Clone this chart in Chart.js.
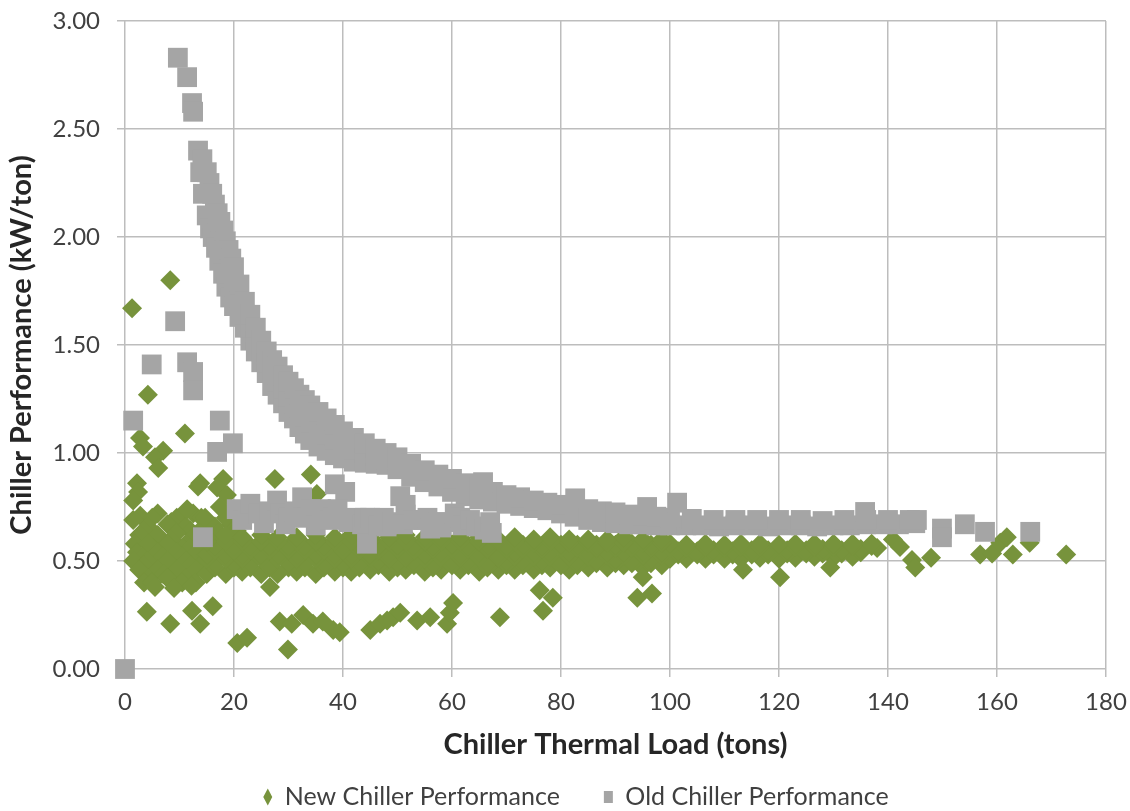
<!DOCTYPE html>
<html>
<head>
<meta charset="utf-8">
<title>Chiller Performance</title>
<script src="https://cdn.jsdelivr.net/npm/chart.js@4.4.1/dist/chart.umd.min.js"></script>
<style>
    html, body { margin: 0; padding: 0; background: #ffffff; }
</style>
</head>
<body>
<canvas id="myScatterChart" width="1130" height="811"></canvas>
<script>
// ---- data: [load (tons), kW/ton] ----

// new chiller, dense cloud at low load
const newLowLoad = [
    [2.8, 0.71], [6.0, 0.72], [9.5, 0.70], [12.5, 0.72], [5.0, 0.70], [8.5, 0.68], [14.0, 0.70],
    [4.2, 0.66], [7.8, 0.67], [11.2, 0.66], [14.5, 0.66], [3.5, 0.64], [12.0, 0.64],
    [2.6, 0.62], [6.0, 0.62], [9.5, 0.63], [13.0, 0.62], [8.5, 0.60], [5.0, 0.56],
    [1.8, 0.58], [4.2, 0.58], [7.8, 0.58], [11.2, 0.58], [14.5, 0.58], [10.5, 0.56], [12.0, 0.56],
    [2.2, 0.54], [6.0, 0.54], [9.5, 0.54], [13.0, 0.54], [3.2, 0.52], [7.0, 0.52], [10.5, 0.52],
    [1.5, 0.50], [4.2, 0.50], [7.8, 0.50], [11.2, 0.50], [14.5, 0.50], [3.5, 0.48], [12.0, 0.48],
    [2.6, 0.46], [6.0, 0.46], [9.5, 0.46], [13.0, 0.46], [7.0, 0.44],
    [4.2, 0.42], [7.8, 0.42], [11.2, 0.42], [3.5, 0.40], [5.0, 0.40], [10.5, 0.40], [13.0, 0.40],
    [5.5, 0.38], [9.0, 0.375], [12.2, 0.385],
    [16.5, 0.66], [19.5, 0.67], [18.5, 0.70], [17.0, 0.63], [20.5, 0.64]
]

// new chiller, main band (rows from bottom to top)
const newBand = [
    [15, 0.44], [18.5, 0.44], [21.5, 0.45], [25, 0.44], [28, 0.44], [31.5, 0.45], [35, 0.44], [38.5, 0.45],
    [41.5, 0.45], [45, 0.46], [48.5, 0.45], [51.5, 0.46], [55, 0.45], [58, 0.46], [61.5, 0.46], [65, 0.45],
    [68.5, 0.46], [71.5, 0.46], [75, 0.46], [78, 0.47], [81.5, 0.46], [85, 0.47], [88.5, 0.47], [91.5, 0.48],
    [95, 0.47], [98.5, 0.48],
    [16.5, 0.47], [20, 0.47], [23, 0.47], [26.5, 0.47], [30, 0.47], [33, 0.47], [36.5, 0.47], [40, 0.47],
    [43, 0.47], [46.5, 0.48], [50, 0.47], [53, 0.48], [56.5, 0.47], [60, 0.48], [63, 0.48], [66.5, 0.47],
    [70, 0.48], [73, 0.48], [76.5, 0.48], [80, 0.48], [83, 0.48], [86.5, 0.49], [90, 0.49], [93, 0.49],
    [96.5, 0.49],
    [16.5, 0.49], [20, 0.49], [23, 0.49], [26.5, 0.48], [30, 0.49], [33, 0.49], [36.5, 0.49], [40, 0.49],
    [43, 0.49], [46.5, 0.50], [50, 0.49], [53, 0.50], [56.5, 0.49], [60, 0.50], [63, 0.50], [66.5, 0.49],
    [70, 0.50], [73, 0.50], [76.5, 0.50], [80, 0.50], [83, 0.50], [86.5, 0.50], [90, 0.51], [93, 0.50],
    [96.5, 0.51], [100, 0.51], [103, 0.51], [106.5, 0.51], [110, 0.51], [113, 0.51], [116.5, 0.515], [120, 0.51],
    [123, 0.515], [126.5, 0.52], [130, 0.515], [133.5, 0.52],
    [15, 0.51], [18.5, 0.51], [21.5, 0.51], [25, 0.51], [28, 0.51], [31.5, 0.51], [35, 0.51], [38.5, 0.51],
    [41.5, 0.51], [45, 0.515], [48.5, 0.51], [51.5, 0.515], [55, 0.51], [58, 0.515], [61.5, 0.515], [65, 0.515],
    [68.5, 0.515], [71.5, 0.52], [75, 0.52], [78, 0.52], [81.5, 0.52], [85, 0.52], [88.5, 0.525], [91.5, 0.525],
    [95, 0.525], [98.5, 0.525], [101.5, 0.53], [105, 0.53], [108, 0.53], [111.5, 0.53], [115, 0.53], [118, 0.53],
    [121.5, 0.535], [125, 0.535], [128, 0.535], [131.5, 0.535], [135, 0.54],
    [15, 0.53], [18.5, 0.53], [21.5, 0.53], [25, 0.53], [28, 0.53], [31.5, 0.53], [35, 0.53], [38.5, 0.53],
    [41.5, 0.53], [45, 0.53], [48.5, 0.53], [51.5, 0.53], [55, 0.53], [58, 0.54], [61.5, 0.53], [65, 0.54],
    [68.5, 0.53], [71.5, 0.54], [75, 0.54], [78, 0.54], [81.5, 0.54], [85, 0.54], [88.5, 0.54], [91.5, 0.54],
    [95, 0.545], [98.5, 0.54], [101.5, 0.545], [105, 0.545], [108, 0.55], [111.5, 0.545], [115, 0.55], [118, 0.55],
    [121.5, 0.55], [125, 0.55], [128, 0.555], [131.5, 0.55], [135, 0.555], [138, 0.56],
    [16.5, 0.55], [20, 0.55], [23, 0.55], [26.5, 0.55], [30, 0.55], [33, 0.55], [36.5, 0.55], [40, 0.55],
    [43, 0.55], [46.5, 0.55], [50, 0.555], [53, 0.55], [56.5, 0.555], [60, 0.555], [63, 0.555], [66.5, 0.555],
    [70, 0.555], [73, 0.555], [76.5, 0.555], [80, 0.56], [83, 0.56], [86.5, 0.56], [90, 0.56], [93, 0.56],
    [96.5, 0.56], [100, 0.56], [103, 0.56], [106.5, 0.565], [110, 0.56], [113, 0.565], [116.5, 0.565], [120, 0.565],
    [123, 0.565], [126.5, 0.565], [130, 0.565], [133.5, 0.57], [137, 0.57],
    [16.5, 0.57], [20, 0.57], [23, 0.57], [26.5, 0.57], [30, 0.57], [33, 0.57], [36.5, 0.57], [40, 0.57],
    [43, 0.57], [46.5, 0.57], [50, 0.575], [53, 0.57], [56.5, 0.57], [60, 0.575], [63, 0.57], [66.5, 0.575],
    [70, 0.57], [73, 0.575], [76.5, 0.57], [80, 0.575], [83, 0.575], [86.5, 0.575], [90, 0.575], [93, 0.58],
    [96.5, 0.575], [100, 0.58], [103, 0.575], [106.5, 0.58], [110, 0.575], [113, 0.58], [116.5, 0.58], [120, 0.575],
    [123, 0.58], [126.5, 0.58], [130, 0.58], [133.5, 0.58], [137, 0.58], [140.9, 0.60], [142.2, 0.565],
    [15, 0.59], [18.5, 0.59], [21.5, 0.59], [25, 0.59], [28, 0.59], [31.5, 0.59], [35, 0.59], [38.5, 0.59],
    [41.5, 0.59], [45, 0.59], [48.5, 0.59], [51.5, 0.59], [55, 0.59], [58, 0.59], [61.5, 0.59], [65, 0.59],
    [68.5, 0.59], [71.5, 0.59], [75, 0.585], [78, 0.59], [81.5, 0.585], [85, 0.585], [88.5, 0.585], [91.5, 0.585],
    [95, 0.585], [98.5, 0.585],
    [15, 0.61], [18.5, 0.62], [21.5, 0.61], [25, 0.62], [28, 0.61], [31.5, 0.61], [35, 0.62], [38.5, 0.61],
    [41.5, 0.62], [45, 0.61], [48.5, 0.61], [51.5, 0.62], [55, 0.61], [58, 0.61], [61.5, 0.61], [65, 0.61],
    [68.5, 0.60], [71.5, 0.61], [75, 0.60], [78, 0.61], [81.5, 0.60], [85, 0.60], [88.5, 0.60], [91.5, 0.61],
    [95, 0.60], [98.5, 0.60]
]

// new chiller, scattered points away from the band
const newOutliers = [
    [1.3, 1.67], [8.3, 1.80], [4.2, 1.27], [11.0, 1.09], [2.75, 1.07], [3.3, 1.03], [7.0, 1.01], [5.5, 0.98],
    [6.1, 0.93], [2.2, 0.86], [2.4, 0.82], [1.5, 0.78], [1.5, 0.69], [13.8, 0.86], [13.4, 0.845], [18.0, 0.88],
    [16.9, 0.84], [18.7, 0.805], [17.4, 0.75], [11.4, 0.74], [14.7, 0.70], [27.5, 0.88], [34.1, 0.90], [35.2, 0.81],
    [4.0, 0.265], [8.3, 0.21], [12.3, 0.27], [13.8, 0.21], [16.1, 0.29], [20.6, 0.12], [22.4, 0.145], [29.9, 0.09],
    [28.4, 0.22], [30.6, 0.21], [32.7, 0.25], [34.5, 0.21], [36.3, 0.22], [38.2, 0.18], [39.4, 0.17], [45.0, 0.18],
    [46.8, 0.21], [49.2, 0.24], [26.6, 0.38], [48.1, 0.225], [50.5, 0.26], [53.6, 0.225], [56.0, 0.24], [59.1, 0.21],
    [59.6, 0.26], [60.2, 0.305], [68.8, 0.24], [76.1, 0.365], [78.5, 0.33], [76.7, 0.27], [94.0, 0.33], [96.7, 0.35],
    [95.0, 0.425], [113.4, 0.46], [120.2, 0.425], [129.4, 0.47],
    [144.4, 0.505], [145.0, 0.47], [147.9, 0.515], [156.9, 0.53], [159.1, 0.535], [160.6, 0.585], [161.8, 0.61],
    [162.9, 0.53], [166.0, 0.585], [172.7, 0.53]
]

// old chiller, lower edge of the curve
const oldCurveLow = [
    [13.4, 2.40], [13.8, 2.30], [14.3, 2.20], [15.0, 2.10], [15.6, 2.04], [16.1, 2.00], [16.7, 1.95], [17.3, 1.89],
    [18.0, 1.83], [18.6, 1.77], [19.3, 1.72], [20.0, 1.68], [21.0, 1.63], [22.0, 1.58], [23.0, 1.52], [24.0, 1.47],
    [25.0, 1.42], [26.0, 1.37], [27.0, 1.31], [28.0, 1.27], [29.0, 1.23], [30.0, 1.19], [31.0, 1.16], [32.0, 1.12],
    [33.0, 1.09], [34.0, 1.06], [35.5, 1.03], [37.0, 1.01], [38.5, 0.99], [40.0, 0.975], [42.0, 0.96], [44.0, 0.955],
    [46.0, 0.95], [48.0, 0.945], [50.0, 0.925], [52.5, 0.89], [55.0, 0.865], [57.5, 0.845], [60.0, 0.82], [62.5, 0.80],
    [65.0, 0.785], [67.5, 0.775], [70.0, 0.765], [72.5, 0.755], [75.0, 0.745], [77.5, 0.735], [80.0, 0.72], [82.5, 0.705],
    [85.0, 0.69], [87.5, 0.68], [90.0, 0.675], [92.5, 0.67], [95.0, 0.67], [97.5, 0.665], [100, 0.665], [103, 0.665],
    [106, 0.665], [109, 0.66], [112, 0.665], [115, 0.665], [118, 0.66], [121, 0.665], [124, 0.665], [127, 0.66],
    [130, 0.665], [133, 0.665], [136, 0.67], [139, 0.67], [142, 0.67], [145, 0.675]
]

// old chiller, middle of the curve
const oldCurveMid = [
    [18, 1.93], [19, 1.83], [20, 1.77], [21, 1.70], [22, 1.64], [23, 1.58], [24, 1.52], [25, 1.47],
    [26, 1.42], [27, 1.37], [28, 1.33], [29, 1.30], [30, 1.26], [31, 1.23], [32, 1.195], [33, 1.17],
    [34, 1.14], [35.5, 1.11], [37, 1.085], [38.5, 1.06], [40, 1.035], [42, 1.015], [44, 1.0], [46, 0.985],
    [48, 0.97]
]

// old chiller, upper edge of the curve
const oldCurveHigh = [
    [14.2, 2.36], [15.0, 2.30], [15.5, 2.25], [16.0, 2.20], [16.5, 2.15], [17.0, 2.11], [17.5, 2.07], [18.0, 2.03],
    [18.5, 1.98], [19.0, 1.94], [19.5, 1.90], [20.0, 1.86], [21.0, 1.78], [22.0, 1.70], [23.0, 1.64], [24.0, 1.58],
    [25.0, 1.52], [26.0, 1.47], [27.0, 1.43], [28.0, 1.40], [29.0, 1.36], [30.0, 1.33], [31.0, 1.30], [32.0, 1.27],
    [33.0, 1.245], [34.0, 1.22], [35.5, 1.19], [37.0, 1.16], [38.5, 1.13], [40.0, 1.10], [42.0, 1.07], [44.0, 1.045],
    [46.0, 1.02], [48.0, 1.0], [50.0, 0.98], [52.5, 0.95], [55, 0.92], [57.5, 0.90], [60, 0.88], [62.5, 0.86],
    [65, 0.84], [67.5, 0.82], [70, 0.805], [72.5, 0.795], [75, 0.78], [77.5, 0.77], [80, 0.76], [82.5, 0.75],
    [85, 0.74], [87.5, 0.73], [90, 0.725], [92.5, 0.715], [95, 0.71], [97.5, 0.705], [100, 0.70], [104, 0.695],
    [108, 0.69], [112, 0.69], [116, 0.69], [120, 0.69], [124, 0.69], [128, 0.685], [132, 0.69], [136, 0.69],
    [140, 0.69], [144, 0.69]
]

// old chiller, lower cluster under the curve (20 - 68 tons)
const oldCluster = [
    [20.5, 0.74], [21.5, 0.69], [22.5, 0.73], [23.0, 0.765], [24.5, 0.72], [25.5, 0.675], [26.5, 0.73], [27.9, 0.78],
    [28.5, 0.72], [29.5, 0.67], [30.0, 0.70], [31.0, 0.73], [32.5, 0.795], [33.5, 0.70], [34.0, 0.74], [35.0, 0.665],
    [36.0, 0.74], [37.5, 0.69], [38.0, 0.70], [38.5, 0.855], [40.4, 0.82], [39.0, 0.74], [41.0, 0.68], [42.5, 0.70],
    [43.5, 0.67], [44.0, 0.70], [44.4, 0.58], [45.0, 0.70], [46.5, 0.665], [47.5, 0.70], [48.0, 0.66], [49.0, 0.68],
    [50.5, 0.80], [51.5, 0.76], [51.5, 0.715], [51.0, 0.67], [53.0, 0.69], [54.7, 0.69], [55.5, 0.70], [56.0, 0.65],
    [57.5, 0.68], [58.0, 0.655], [59.0, 0.68], [60.5, 0.72], [61.5, 0.70], [62.0, 0.665], [63.3, 0.69], [64.5, 0.66],
    [66.0, 0.645], [67.0, 0.68], [67.3, 0.63]
]

// old chiller, isolated points
const oldOutliers = [
    [0, 0.00], [1.5, 1.15], [4.9, 1.41], [9.2, 1.61], [11.4, 1.42], [12.5, 1.375], [12.5, 1.29], [17.4, 1.15],
    [19.8, 1.045], [16.9, 1.005], [14.3, 0.61], [9.7, 2.83], [11.4, 2.74], [12.3, 2.62], [12.5, 2.58],
    [65.7, 0.865], [82.6, 0.79], [95.8, 0.75], [101.3, 0.77],
    [135.8, 0.727], [145.3, 0.69], [149.9, 0.65], [149.9, 0.61], [154.1, 0.67], [157.8, 0.635], [166.1, 0.635]
]

const xTicks = [0, 20, 40, 60, 80, 100, 120, 140, 160, 180]
const yTicks = [0, 0.5, 1.0, 1.5, 2.0, 2.5, 3.0]

class View {
    static scatterItem = document.querySelector('#myScatterChart')

    constructor() {
        this.scatterChart
    }

    toPoints(...groups) {
        const points = []
        groups.forEach(group => {
            group.forEach(([x, y]) => points.push({ x: x, y: y }))
        })
        return points
    }

    getScatterChart() {
        const tickFont = { family: 'Lato', size: 24 }
        const titleFont = { family: 'Lato', size: 29, weight: 'bold' }
        const gridColor = '#bdbdbd'

        const config = {
            type: 'scatter',
            data: {
                datasets: [
                    {
                        label: 'New Chiller Performance',
                        data: this.toPoints(newLowLoad, newBand, newOutliers),
                        pointStyle: 'rectRot',
                        pointRadius: 10,
                        pointBorderWidth: 0,
                        backgroundColor: '#77933c',
                        borderColor: '#77933c',
                        order: 2,
                        clip: false
                    },
                    {
                        label: 'Old Chiller Performance',
                        data: this.toPoints(oldCurveLow, oldCurveMid, oldCurveHigh, oldCluster, oldOutliers),
                        pointStyle: 'rect',
                        pointRadius: 14,
                        pointBorderWidth: 0,
                        backgroundColor: '#a5a5a5',
                        borderColor: '#a5a5a5',
                        order: 1,
                        clip: false
                    }
                ]
            },
            options: {
                responsive: false,
                animation: false,
                events: [],
                layout: { padding: { top: 21, right: 24, left: 46, bottom: -8.5 } },
                plugins: {
                    tooltip: { enabled: false },
                    legend: {
                        position: 'bottom',
                        labels: {
                            usePointStyle: true,
                            pointStyleWidth: 9,
                            boxHeight: 12,
                            padding: 44,
                            color: '#404040',
                            font: { family: 'Lato', size: 25 },
                            sort: (a, b) => a.datasetIndex - b.datasetIndex
                        }
                    }
                },
                scales: {
                    x: {
                        type: 'linear',
                        min: 0,
                        max: 180,
                        afterBuildTicks: scale => { scale.ticks = xTicks.map(v => ({ value: v })) },
                        ticks: { color: '#404040', font: tickFont, padding: 11 },
                        grid: { color: gridColor, lineWidth: 1.5, tickLength: 8 },
                        border: { display: false },
                        title: {
                            display: true,
                            text: 'Chiller Thermal Load (tons)',
                            color: '#262626',
                            font: titleFont,
                            padding: { top: 0, bottom: -22 }
                        },
                        afterFit: scale => {
                            scale.height = 71.5
                            scale.paddingLeft = 0
                            scale.paddingRight = 0
                        }
                    },
                    y: {
                        min: 0,
                        max: 3,
                        afterBuildTicks: scale => { scale.ticks = yTicks.map(v => ({ value: v })) },
                        ticks: {
                            color: '#404040',
                            font: tickFont,
                            padding: 17,
                            callback: value => value.toFixed(2)
                        },
                        grid: { color: gridColor, lineWidth: 1.5, tickLength: 8 },
                        border: { display: false },
                        title: {
                            display: true,
                            text: 'Chiller Performance (kW/ton)',
                            color: '#262626',
                            font: titleFont,
                            padding: { top: -41.4, bottom: 4 }
                        },
                        afterFit: scale => {
                            scale.width = 79
                            scale.paddingTop = 0
                            scale.paddingBottom = 0
                        }
                    }
                }
            }
        }
        this.scatterChart = new Chart(View.scatterItem, config)
    }

    render() {
        this.getScatterChart()
    }
}

const view = new View()
view.render()
</script>
</body>
</html>
